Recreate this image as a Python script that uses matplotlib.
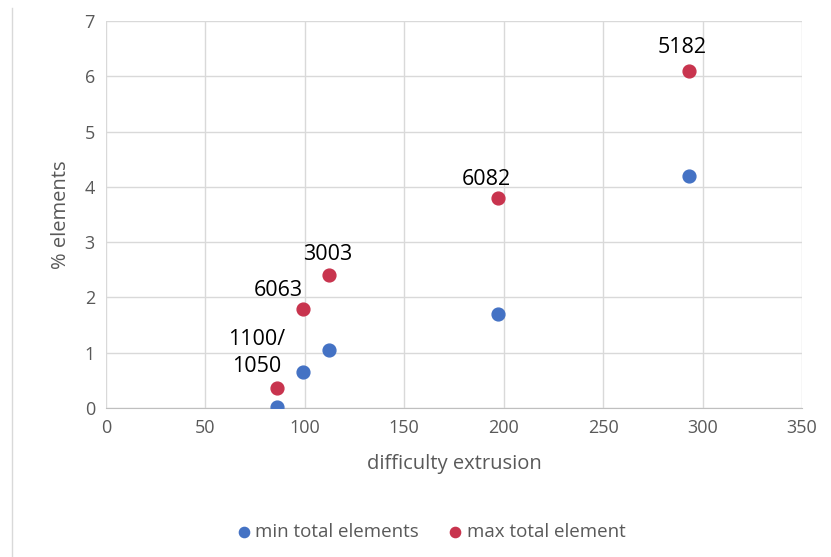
import matplotlib.pyplot as plt
from matplotlib.lines import Line2D

plt.rcParams['font.family'] = ['Open Sans', 'DejaVu Sans']

difficulty = [86, 99, 112, 197, 293]
min_elements = [0.02, 0.65, 1.05, 1.7, 4.2]
max_elements = [0.36, 1.8, 2.4, 3.8, 6.1]
alloys = ["1100/\n1050", "6063", "3003", "6082", "5182"]
# label offsets from the red point, in pixels
label_offsets = [(-20, 35), (-25, 18), (-1, 21), (-11, 19), (-6, 23)]

blue = "#4472C4"
red = "#C8344E"
grey = "#595959"

fig = plt.figure(figsize=(8.31, 5.57), dpi=100)
ax = fig.add_axes([0.1276, 0.2675, 0.8374, 0.6945])

ax.scatter(difficulty, min_elements, s=85, color=blue, zorder=3, label="min total elements")
ax.scatter(difficulty, max_elements, s=85, color=red, zorder=3, label="max total element")

for x, y, txt, off in zip(difficulty, max_elements, alloys, label_offsets):
    ax.annotate(txt, (x, y), xytext=off, textcoords="offset pixels",
                ha="center", va="center", fontsize=15.5, color="black",
                linespacing=1.35)

ax.set_xlim(0, 350)
ax.set_ylim(0, 7)
ax.set_xticks(range(0, 351, 50))
ax.set_yticks(range(0, 8))
ax.grid(True, color="#D9D9D9", linewidth=1)
ax.set_axisbelow(True)
for side in ["left", "top", "right"]:
    ax.spines[side].set_visible(False)
ax.spines["bottom"].set_color("#BFBFBF")
ax.tick_params(length=0, labelsize=13, colors=grey, pad=8)

ax.set_xlabel("difficulty extrusion", fontsize=14.5, color=grey, labelpad=12)
ax.set_ylabel("% elements", fontsize=14.5, color=grey, labelpad=10)

fig.legend(loc="center", bbox_to_anchor=(0.519, 0.045), ncol=2, frameon=False,
           fontsize=13.5, labelcolor=grey, handlelength=0.7, handletextpad=0.25,
           columnspacing=1.6, markerscale=0.8)

fig.add_artist(Line2D([0.0145, 0.0145], [0.0, 0.985], transform=fig.transFigure,
                      color="#D9D9D9", linewidth=1))

fig.savefig("out.png", dpi=100)
